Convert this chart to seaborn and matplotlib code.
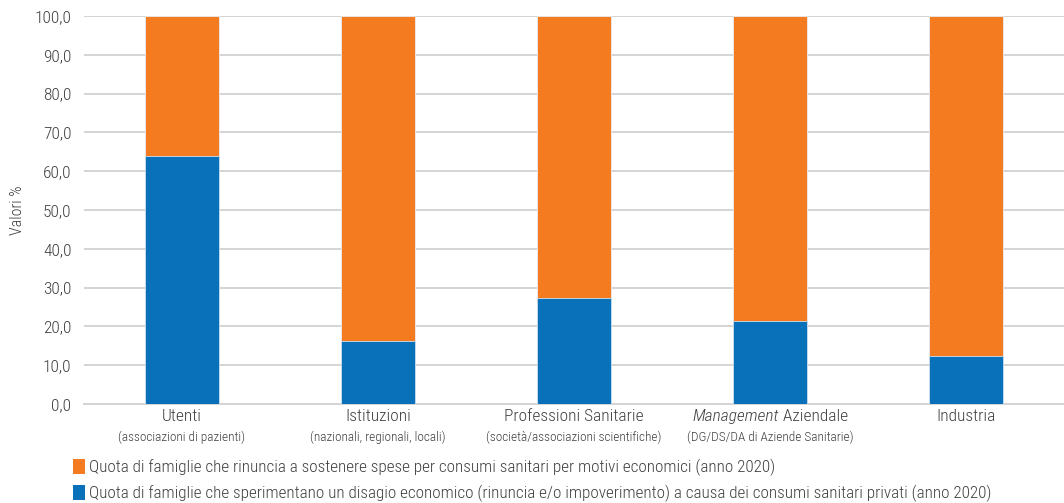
import matplotlib
matplotlib.use("Agg")
import matplotlib.pyplot as plt
import seaborn as sns
import pandas as pd
from matplotlib.patches import Patch

categories = ["Utenti", "Istituzioni", "Professioni Sanitarie", "Management", "Industria"]
subtitles = ["(associazioni di pazienti)", "(nazionali, regionali, locali)",
             "(società/associazioni scientifiche)", "(DG/DS/DA di Aziende Sanitarie)", ""]
blue_vals = [63.8, 16.2, 27.2, 21.3, 12.5]
orange_vals = [36.2, 83.8, 72.8, 78.7, 87.5]
yticks = [0, 10, 20, 30, 40, 50, 60, 70, 80, 90, 100]

series_orange = "Quota di famiglie che rinuncia a sostenere spese per consumi sanitari per motivi economici (anno 2020)"
series_blue = ("Quota di famiglie che sperimentano un disagio economico (rinuncia e/o impoverimento) "
               "a causa dei consumi sanitari privati (anno 2020)")

ORANGE = "#f47b20"
BLUE = "#0871b9"
TXT = "#404040"

sns.set_theme(style="white")
plt.rcParams["font.family"] = ["Roboto Condensed", "DejaVu Sans"]
plt.rcParams["font.weight"] = 300

df = pd.DataFrame({"cat": categories, "blue": blue_vals, "orange": orange_vals})
df["total"] = df["blue"] + df["orange"]

fig = plt.figure(figsize=(10.64, 5.03), dpi=100)
ax = fig.add_axes([84 / 1064, 1 - 404 / 503, 980 / 1064, 388 / 503])

sns.barplot(data=df, x="cat", y="total", color=ORANGE, saturation=1, width=0.378,
            edgecolor="#e8eef5", linewidth=0.6, ax=ax, zorder=3)
sns.barplot(data=df, x="cat", y="blue", color=BLUE, saturation=1, width=0.378,
            edgecolor="#cfe0f0", linewidth=0.6, ax=ax, zorder=4)

ax.set_ylim(0, 100)
ax.set_xlim(-0.5, len(categories) - 0.5)
ax.set_yticks(yticks)
ax.set_yticklabels([f"{v:.1f}".replace(".", ",") for v in yticks], fontsize=12.5,
                   color=TXT, fontweight=300)
ax.tick_params(axis="y", length=0, pad=9)
ax.tick_params(axis="x", length=0)
ax.set_xticklabels([])
ax.set_xlabel("")
ax.set_ylabel("Valori %", fontsize=11.5, color=TXT, fontweight=300)
ax.yaxis.set_label_coords(-0.060, 0.5)
ax.grid(axis="y", color="#d4d4d4", linewidth=1.4, zorder=0)
for s in ["top", "right", "left"]:
    ax.spines[s].set_visible(False)
ax.spines["bottom"].set_color("#d4d4d4")
ax.spines["bottom"].set_linewidth(1.4)

# Category labels: main name plus smaller description beneath
fig.canvas.draw()
renderer = fig.canvas.get_renderer()
trans = ax.get_xaxis_transform()
y_main, y_sub = -0.032, -0.086
for i, (name, sub) in enumerate(zip(categories, subtitles)):
    if name == "Management":
        t1 = ax.text(i, y_main, name, transform=trans, ha="left", va="center",
                     fontsize=12.5, color=TXT, style="italic", fontweight=300)
        t2 = ax.text(i, y_main, " Aziendale", transform=trans, ha="left", va="center",
                     fontsize=12.5, color=TXT, fontweight=300)
        w1 = t1.get_window_extent(renderer).width
        w2 = t2.get_window_extent(renderer).width
        x0 = ax.transData.transform((i, 0))[0] - (w1 + w2) / 2
        inv = ax.transData.inverted()
        t1.set_x(inv.transform((x0, 0))[0])
        t2.set_x(inv.transform((x0 + w1, 0))[0])
    else:
        ax.text(i, y_main, name, transform=trans, ha="center", va="center",
                fontsize=12.5, color=TXT, fontweight=300)
    if sub:
        ax.text(i, y_sub, sub, transform=trans, ha="center", va="center",
                fontsize=9.5, color=TXT, fontweight=300)

handles = [Patch(facecolor=ORANGE, edgecolor="none"), Patch(facecolor=BLUE, edgecolor="none")]
leg = fig.legend(handles, [series_orange, series_blue], loc="lower left",
                 bbox_to_anchor=(62 / 1064, -10 / 503), frameon=False,
                 prop={"size": 12.3, "weight": 300},
                 handlelength=0.72, handleheight=1.0, handletextpad=0.2,
                 labelspacing=0.48, labelcolor=TXT, borderaxespad=0.25)

fig.savefig("out.png", dpi=100)
